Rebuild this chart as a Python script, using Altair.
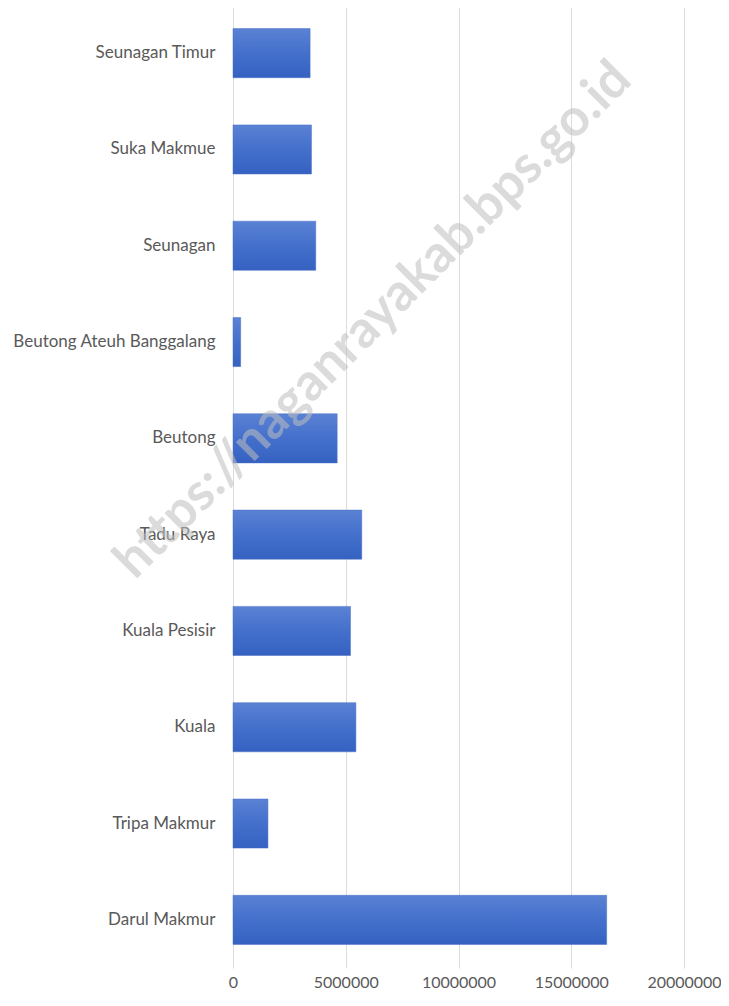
import altair as alt
import pandas as pd

kecamatan = [
    "Seunagan Timur",
    "Suka Makmue",
    "Seunagan",
    "Beutong Ateuh Banggalang",
    "Beutong",
    "Tadu Raya",
    "Kuala Pesisir",
    "Kuala",
    "Tripa Makmur",
    "Darul Makmur",
]
nilai = [3420000, 3480000, 3670000, 340000, 4620000, 5710000, 5210000, 5450000, 1550000, 16570000]
x_ticks = [0, 5000000, 10000000, 15000000, 20000000]
watermark = ["https://naganrayakab.bps.go.id"]

df = pd.DataFrame({"kecamatan": kecamatan, "nilai": nilai})
wm_df = pd.DataFrame({"t": watermark})

grad = alt.Gradient(
    gradient="linear",
    stops=[
        alt.GradientStop(color="#5a82d4", offset=0),
        alt.GradientStop(color="#4470cc", offset=0.5),
        alt.GradientStop(color="#3562c1", offset=1),
    ],
    x1=0, x2=0, y1=0, y2=1,
)

bars = alt.Chart(df).mark_bar(color=grad, stroke="#4a6fc4", strokeWidth=0.5).encode(
    x=alt.X(
        "nilai:Q",
        scale=alt.Scale(domain=[0, 20000000], nice=False),
        axis=alt.Axis(
            values=x_ticks, format="d", title=None, domain=False, ticks=False,
            grid=True, gridColor="#dcdcdc", labelFont="Lato", labelFontSize=16,
            labelColor="#595959", labelPadding=6, labelFlush=False,
        ),
    ),
    y=alt.Y(
        "kecamatan:N",
        sort=kecamatan,
        scale=alt.Scale(paddingInner=0.49, paddingOuter=0.245),
        axis=alt.Axis(
            title=None, domain=False, ticks=False, labelFont="Lato",
            labelFontSize=17, labelColor="#595959", labelPadding=18, labelLimit=0,
        ),
    ),
)

wm = alt.Chart(wm_df).mark_text(
    angle=315, font="Lato", fontWeight="bold", fontSize=52, color="#bebebe",
    opacity=0.55, align="center", baseline="middle",
).encode(x=alt.value(140), y=alt.value(315), text="t:N")

chart = alt.layer(bars, wm).properties(
    width=451,
    height=963,
    autosize=alt.AutoSizeParams(type="none"),
    padding={"left": 225, "top": -3, "right": 37, "bottom": 24},
).configure_view(stroke=None)

chart.save("out.html", embed_options={"renderer": "svg", "actions": False})
